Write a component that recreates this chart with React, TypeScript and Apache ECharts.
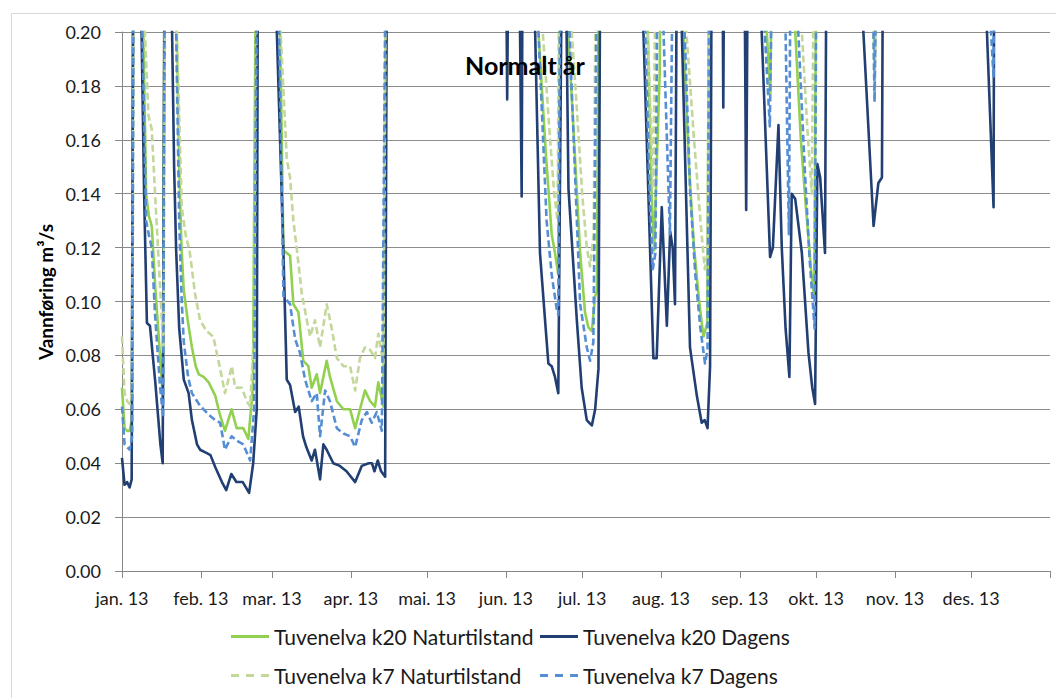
import React, { useEffect, useRef } from 'react';
import * as echarts from 'echarts';

// X axis: day of year 2013 (0 = 1 Jan), month start ticks
const MONTH_LABELS = ['jan. 13', 'feb. 13', 'mar. 13', 'apr. 13', 'mai. 13', 'jun. 13', 'jul. 13', 'aug. 13', 'sep. 13', 'okt. 13', 'nov. 13', 'des. 13'];
const MONTH_START_DAYS = [0, 31, 59, 90, 120, 151, 181, 212, 243, 273, 304, 334];
const YEAR_END_DAY = 365;

const SERIES_NAMES = [
  'Tuvenelva k20 Naturtilstand',
  'Tuvenelva k20 Dagens',
  'Tuvenelva k7 Naturtilstand',
  'Tuvenelva k7 Dagens',
];

// Y ticks
const Y_MIN = 0;
const Y_MAX = 0.2;
const Y_STEP = 0.02;

// Flow above the plotted range (clipped at 0.20)
const OFF = 0.3;

// [day of year, m³/s]
const k20Naturtilstand: [number, number][] = [
  [0, 0.068], [1, 0.053], [2, 0.052], [3, 0.052], [3.9, 0.056], [4.7, OFF],
  [7.8, OFF], [8.4, 0.2], [9.5, 0.14], [10.5, 0.132], [11.7, 0.128], [13.1, 0.105], [15.1, 0.078], [16.1, 0.064], [17, OFF],
  [20.8, OFF], [21.5, 0.2], [22.5, 0.15], [23.4, 0.12], [24.3, 0.104], [26, 0.092], [27.5, 0.083], [29, 0.076], [30.2, 0.073], [32.1, 0.072], [34.1, 0.07], [36.7, 0.065], [38.5, 0.058], [40.5, 0.052], [43.1, 0.06], [45.1, 0.053], [47.7, 0.053], [49.7, 0.049], [51.5, 0.068], [53.2, OFF],
  [61.5, OFF], [62.2, 0.2], [63.5, 0.119], [66.1, 0.117], [67.4, 0.099], [69.4, 0.096], [71.3, 0.078], [73.3, 0.076], [74.6, 0.068], [76.6, 0.073], [77.9, 0.066], [80.5, 0.078], [81.8, 0.072], [84.5, 0.063], [87.1, 0.06], [89.7, 0.06], [91.7, 0.053], [93.6, 0.06], [95.6, 0.067], [97.6, 0.063], [99.5, 0.061], [100.8, 0.07], [102.8, 0.061], [104.2, OFF],
  [163.3, OFF], [163.8, 0.2], [166.7, 0.155], [169, 0.125], [170.3, 0.118], [171.6, 0.11], [172.8, OFF],
  [175, OFF], [175.5, 0.2], [180.2, 0.118], [182.1, 0.096], [183.4, 0.0905], [184.8, 0.089], [186.1, 0.102], [186.8, 0.104], [188, OFF],
  [206.3, OFF], [206.8, 0.2], [208.3, 0.14], [209.3, 0.119], [210.3, 0.15], [211.5, 0.185], [212.5, OFF],
  [220.3, OFF], [220.8, 0.2], [223, 0.15], [225, 0.12], [227, 0.1], [228.7, 0.087], [230.2, 0.092], [231.3, OFF],
  [253.2, OFF], [253.6, 0.2], [255, 0.177], [256.4, OFF],
  [264.3, OFF], [264.8, 0.2], [267, 0.16], [269, 0.135], [271, 0.112], [272.3, 0.101], [273.4, OFF],
  [294, OFF], [296, 0.185], [297.8, OFF],
  [365, OFF],
];

const k20Dagens: [number, number][] = [
  [0, 0.042], [1, 0.032], [2, 0.033], [3, 0.031], [3.8, 0.034], [4.6, OFF],
  [7.2, OFF], [7.7, 0.2], [8.7, 0.14], [9.8, 0.092], [11, 0.091], [13.1, 0.07], [15.1, 0.047], [16, 0.04], [17, OFF],
  [19, OFF], [19.7, 0.2], [20.5, 0.15], [21.3, 0.119], [22.5, 0.09], [24.3, 0.071], [26.2, 0.066], [27.5, 0.056], [29.5, 0.047], [30.7, 0.045], [32.8, 0.044], [34.8, 0.043], [36.7, 0.0385], [39.3, 0.033], [41, 0.03], [43, 0.036], [45, 0.033], [47.5, 0.033], [50, 0.029], [51.6, 0.04], [53, 0.06], [53.6, OFF],
  [60.4, OFF], [60.9, 0.2], [63.5, 0.118], [64.8, 0.071], [66.1, 0.069], [68.1, 0.059], [69.5, 0.061], [71.2, 0.05], [72.5, 0.046], [74.6, 0.041], [75.9, 0.045], [77.9, 0.034], [79.2, 0.047], [80.5, 0.045], [83.1, 0.04], [85.7, 0.039], [88.3, 0.037], [91.7, 0.033], [94.3, 0.039], [97, 0.04], [98.3, 0.04], [99.3, 0.037], [100.6, 0.041], [101.9, 0.037], [103.5, 0.035], [104.4, OFF],
  [150.5, OFF], [151.5, 0.175], [152.5, OFF],
  [155.5, OFF], [157.2, 0.139], [157.8, OFF],
  [162, OFF], [162.5, 0.2], [164.4, 0.118], [166.4, 0.093], [167.7, 0.077], [169, 0.076], [170.3, 0.072], [171.6, 0.066], [173.6, OFF],
  [175.6, 0.142], [178.9, 0.093], [180.8, 0.068], [182.8, 0.056], [183.8, 0.055], [184.8, 0.054], [186.1, 0.06], [187.4, 0.075], [188.4, OFF],
  [204.6, OFF], [205.1, 0.2], [209, 0.079], [210.3, 0.079], [212.3, 0.135], [214.3, 0.091], [215.6, 0.126], [216.6, 0.12], [217.5, 0.099], [218.6, OFF],
  [219.6, OFF], [220.2, 0.2], [223.4, 0.083], [226.1, 0.065], [228, 0.055], [229.2, 0.056], [230.3, 0.053], [231.3, 0.076], [232.2, OFF],
  [235.8, OFF], [236.5, 0.172], [237.2, OFF],
  [244.3, OFF], [245.5, 0.134], [246.6, OFF],
  [251.1, OFF], [251.6, 0.2], [254.9, 0.1165], [256, 0.12], [258.2, 0.1655], [259.5, 0.12], [261, 0.09], [262.5, 0.072], [263.4, 0.14], [264.8, 0.138], [267.4, 0.118], [270, 0.081], [271.5, 0.068], [272.6, 0.062], [273.5, 0.151], [274.6, 0.146], [276.5, 0.118], [277.4, OFF],
  [291.2, OFF], [291.6, 0.2], [295.6, 0.128], [297.5, 0.144], [298.9, 0.146], [299.6, OFF],
  [339.8, OFF], [340.2, 0.2], [342.8, 0.135], [343.2, OFF],
  [365, OFF],
];

const k7Naturtilstand: [number, number][] = [
  [0, 0.087], [1, 0.066], [2, 0.063], [3, 0.062], [4, 0.066], [4.9, OFF],
  [8.5, OFF], [9, 0.2], [10.4, 0.169], [11.7, 0.164], [13, 0.14], [15, 0.105], [16.3, 0.082], [17.3, OFF],
  [21, OFF], [21.6, 0.2], [23.5, 0.135], [25, 0.125], [26.7, 0.118], [28.7, 0.103], [30.7, 0.093], [33.3, 0.089], [35.9, 0.087], [38.6, 0.075], [40.5, 0.066], [43.2, 0.076], [44.5, 0.068], [47.1, 0.068], [49.1, 0.063], [50.4, 0.061], [52, 0.09], [53.5, OFF],
  [61.7, OFF], [62.4, 0.2], [64.8, 0.153], [66.1, 0.146], [67.4, 0.13], [68.7, 0.12], [70.7, 0.103], [72.7, 0.093], [74, 0.087], [75.9, 0.093], [77.9, 0.083], [80.5, 0.099], [82.5, 0.09], [84.5, 0.079], [87.1, 0.076], [89.7, 0.076], [91.7, 0.067], [93.6, 0.079], [95.6, 0.083], [97.6, 0.082], [99.5, 0.079], [100.8, 0.088], [102.8, 0.077], [104.3, OFF],
  [165, OFF], [165.5, 0.2], [168, 0.165], [170, 0.14], [171.3, 0.13], [172.5, OFF],
  [176.4, OFF], [176.9, 0.2], [179, 0.17], [181, 0.14], [182.8, 0.12], [184.1, 0.113], [185.5, 0.125], [187, OFF],
  [206.3, OFF], [206.8, 0.2], [208.9, 0.142], [210.8, OFF],
  [221.5, OFF], [222, 0.2], [225, 0.16], [227.5, 0.13], [229.2, 0.112], [230.3, 0.118], [231.4, OFF],
  [266.9, OFF], [267.4, 0.2], [269.5, 0.165], [271.3, 0.14], [272.8, OFF],
  [294, OFF], [296, 0.175], [297.8, OFF],
  [365, OFF],
];

const k7Dagens: [number, number][] = [
  [0, 0.061], [1, 0.047], [2, 0.046], [3, 0.045], [4, 0.05], [4.8, OFF],
  [7.5, OFF], [8, 0.2], [9.5, 0.13], [10.5, 0.125], [11.7, 0.12], [13, 0.095], [15, 0.068], [16.2, 0.057], [17, OFF],
  [20.7, OFF], [21.3, 0.2], [22.5, 0.13], [23.5, 0.1], [24.3, 0.085], [26, 0.072], [27.5, 0.066], [30.2, 0.062], [32.1, 0.06], [34.1, 0.058], [36.7, 0.056], [38.6, 0.055], [40.5, 0.045], [43.1, 0.05], [45.8, 0.048], [47.7, 0.047], [50.4, 0.041], [52, 0.06], [53.4, OFF],
  [61.2, OFF], [61.8, 0.2], [63.5, 0.102], [66.1, 0.099], [68.1, 0.086], [70, 0.081], [72, 0.071], [74.6, 0.063], [76.6, 0.066], [77.9, 0.05], [79.9, 0.067], [81.8, 0.063], [84.5, 0.053], [87.1, 0.051], [89.7, 0.05], [91.7, 0.046], [94.3, 0.056], [96.3, 0.059], [98.2, 0.055], [100.2, 0.059], [102.2, 0.052], [104.3, OFF],
  [163.3, OFF], [163.8, 0.2], [167, 0.13], [169, 0.11], [171, 0.097], [171.6, 0.095], [172.8, OFF],
  [175.5, OFF], [176, 0.2], [180.2, 0.099], [182.8, 0.083], [184.1, 0.078], [185.4, 0.085], [187.6, OFF],
  [205.3, OFF], [205.8, 0.2], [207.5, 0.14], [208.8, 0.112], [209.8, 0.118], [211.2, OFF],
  [212.5, OFF], [213, 0.2], [215.5, 0.125], [217.4, OFF],
  [220.8, OFF], [221.3, 0.2], [223.5, 0.14], [225.5, 0.11], [227.5, 0.09], [229.3, 0.077], [230.3, 0.082], [231.4, OFF],
  [252.3, OFF], [252.8, 0.2], [254.8, 0.165], [256.8, OFF],
  [260.5, OFF], [261, 0.2], [262.3, 0.125], [263.4, OFF],
  [265.5, OFF], [266, 0.2], [268.5, 0.15], [270.5, 0.115], [272.4, 0.09], [273.5, OFF],
  [294, OFF], [296, 0.174], [297.6, OFF],
  [341.5, OFF], [341.8, 0.2], [342.8, 0.183], [343.4, OFF],
  [365, OFF],
];

const COLORS = ['#92D050', '#213F72', '#C4D79B', '#558ED5'];
const FONT = 'Lato, "Open Sans", sans-serif';

const SOLID_ICON = 'path://M0,0H38V3H0Z';
const DASH_ICON = 'path://M0,0H8V3H0Z M15,0H23V3H15Z M30,0H38V3H30Z';

export default function App() {
  const ref = useRef<HTMLDivElement>(null);

  useEffect(() => {
    if (!ref.current) return;
    const chart = echarts.init(ref.current, null, { renderer: 'svg' });
    const seriesData = [k20Naturtilstand, k20Dagens, k7Naturtilstand, k7Dagens];
    const dashed = [false, false, true, true];

    const legendPos = [
      { left: 231, top: 626 },
      { left: 540, top: 626 },
      { left: 231, top: 665 },
      { left: 540, top: 665 },
    ];

    chart.setOption({
      animation: false,
      backgroundColor: '#ffffff',
      textStyle: { fontFamily: FONT },
      grid: { left: 122, right: 6, top: 32, bottom: 127, containLabel: false },
      xAxis: {
        type: 'value',
        min: 0,
        max: YEAR_END_DAY,
        axisLine: { show: true, lineStyle: { color: '#868686', width: 1 } },
        axisTick: {
          show: true,
          length: 7,
          lineStyle: { color: '#868686' },
          customValues: [...MONTH_START_DAYS, YEAR_END_DAY],
        },
        axisLabel: {
          show: true,
          customValues: MONTH_START_DAYS,
          formatter: (v: number) => MONTH_LABELS[MONTH_START_DAYS.indexOf(Math.round(v))] ?? '',
          fontSize: 18,
          color: '#1a1a1a',
          fontFamily: FONT,
          margin: 18,
        },
        splitLine: { show: false },
      },
      yAxis: {
        type: 'value',
        min: Y_MIN,
        max: Y_MAX,
        interval: Y_STEP,
        axisLine: { show: true, lineStyle: { color: '#868686', width: 1 } },
        axisTick: { show: true, length: 7, lineStyle: { color: '#868686' } },
        axisLabel: {
          formatter: (v: number) => v.toFixed(2),
          fontSize: 18,
          color: '#1a1a1a',
          fontFamily: FONT,
          margin: 21,
        },
        splitLine: { show: true, lineStyle: { color: '#8c8c8c', width: 1 } },
      },
      legend: SERIES_NAMES.map((name, i) => ({
        data: [{ name, icon: dashed[i] ? DASH_ICON : SOLID_ICON }],
        left: legendPos[i].left,
        top: legendPos[i].top,
        itemWidth: 38,
        itemHeight: 3,
        itemGap: 0,
        padding: 0,
        textStyle: { fontSize: 21, color: '#1a1a1a', fontFamily: FONT },
      })),
      series: SERIES_NAMES.map((name, i) => ({
        name,
        type: 'line',
        data: seriesData[i],
        symbol: 'none',
        showSymbol: false,
        clip: true,
        smooth: false,
        color: COLORS[i],
        itemStyle: { color: COLORS[i] },
        lineStyle: {
          color: COLORS[i],
          width: 2.6,
          type: dashed[i] ? [7, 3.5] : 'solid',
          cap: 'butt',
          join: 'round',
        },
        z: 2 + i,
      })),
      graphic: [
        {
          type: 'rect',
          left: 9,
          top: 11,
          shape: { width: 1100, height: 760 },
          style: { fill: 'none', stroke: '#d9d9d9', lineWidth: 1 },
          silent: true,
          z: 0,
        },
        {
          type: 'text',
          x: 465,
          y: 65,
          style: {
            text: 'Normalt år',
            font: `bold 25px ${FONT}`,
            fill: '#000000',
            textAlign: 'left',
            textVerticalAlign: 'middle',
          },
          z: 100,
        },
        {
          type: 'text',
          x: 45,
          y: 292,
          rotation: Math.PI / 2,
          style: {
            text: 'Vannføring m³/s',
            font: `bold 19px ${FONT}`,
            fill: '#000000',
            textAlign: 'center',
            textVerticalAlign: 'middle',
          },
          z: 100,
        },
      ],
    });

    return () => chart.dispose();
  }, []);

  return (
    <div
      ref={ref}
      style={{ position: 'absolute', left: 0, top: 0, width: 1056, height: 698, background: '#ffffff' }}
    />
  );
}
